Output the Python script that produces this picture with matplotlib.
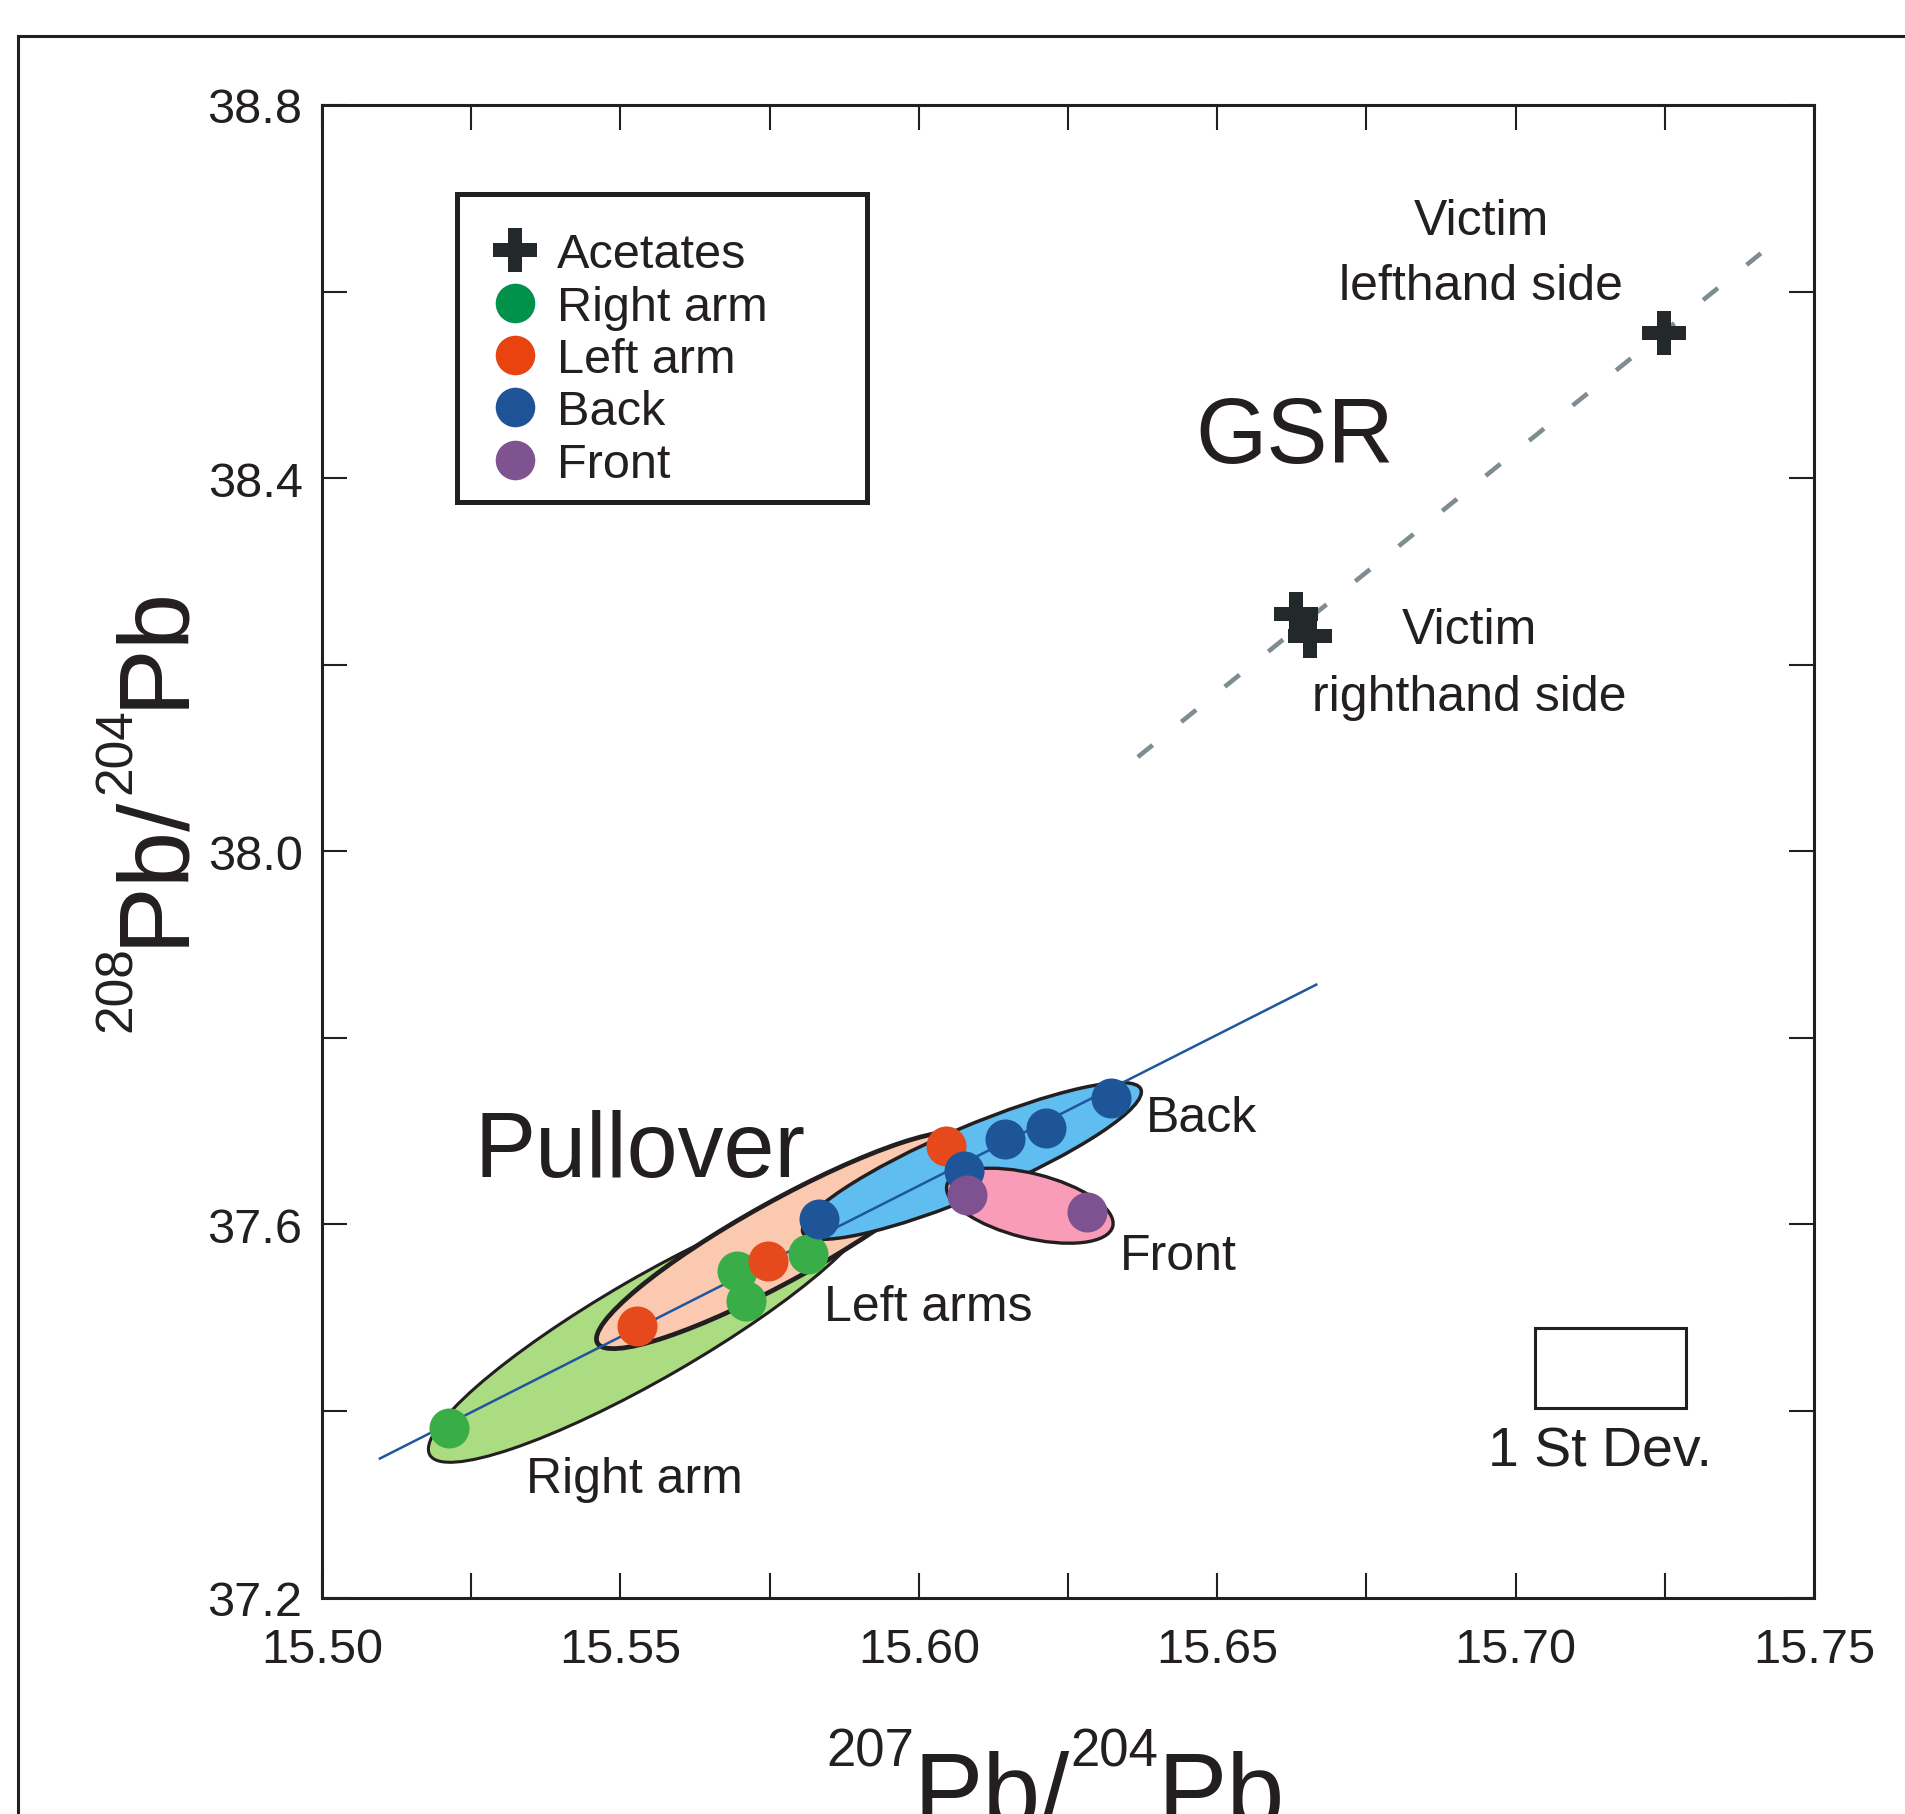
import matplotlib
matplotlib.use('Agg')
import matplotlib.pyplot as plt
from matplotlib.patches import Ellipse, Rectangle
from matplotlib.lines import Line2D
from matplotlib.ticker import MultipleLocator, FuncFormatter

plt.rcParams['font.family'] = ['Liberation Sans', 'DejaVu Sans']

# ---- data ----
acet_x = [15.7248, 15.6632, 15.6655]
acet_y = [38.556, 38.254, 38.231]

right_x = [15.5213, 15.5696, 15.5711, 15.5815]
right_y = [37.382, 37.550, 37.518, 37.568]

left_x = [15.5527, 15.5747, 15.6046]
left_y = [37.491, 37.561, 37.684]

back_x = [15.5833, 15.6076, 15.6144, 15.6213, 15.6322]
back_y = [37.606, 37.657, 37.692, 37.703, 37.736]

front_x = [15.6080, 15.6281]
front_y = [37.632, 37.613]

reg_x = [15.5097, 15.6666]
reg_y = [37.349, 37.857]

gsr_x = [15.6367, 15.7411]
gsr_y = [38.101, 38.641]

# ellipses: centre (data), width/height in axes fraction, angle (deg)
ell_right = (15.5552, 37.490, 0.343, 0.068, 30)
ell_left = (15.5772, 37.583, 0.284, 0.053, 29)
ell_back = (15.6089, 37.668, 0.246, 0.046, 23)
ell_front = (15.6186, 37.620, 0.1146, 0.0432, -14)

sd_x, sd_y, sd_w, sd_h = 15.7033, 37.4028, 0.0253, 0.0858

xmin, xmax = 15.50, 15.75
ymin, ymax = 37.2, 38.8

ink = '#231f20'
W, H = 1906, 1815
fig = plt.figure(figsize=(W / 100, H / 100), dpi=100)
ax = fig.add_axes([322 / W, 1 - 1598.5 / H, 1492 / W, 1492.5 / H])
ax.set_xlim(xmin, xmax)
ax.set_ylim(ymin, ymax)


def add_ell(e, face, lw, z):
    cx, cy, w, h, ang = e
    fx = (cx - xmin) / (xmax - xmin)
    fy = (cy - ymin) / (ymax - ymin)
    ax.add_patch(Ellipse((fx, fy), w, h, angle=ang, transform=ax.transAxes,
                         facecolor=face, edgecolor=ink, lw=lw, zorder=z))


add_ell(ell_right, '#acdc82', 2.2, 1)
add_ell(ell_left, '#fbc8b0', 3.4, 2)
add_ell(ell_back, '#5fbdf0', 2.5, 3)
add_ell(ell_front, '#f99cb8', 2.4, 4)

ax.plot(reg_x, reg_y, color='#1f56a0', lw=1.8, zorder=5)
ax.plot(gsr_x, gsr_y, color='#7f8c91', lw=3.3, linestyle=(0, (4.15, 8.05)), zorder=5)

ms = 830
ax.scatter(right_x, right_y, s=ms, color='#39ad48', lw=0, zorder=6)
ax.scatter(left_x, left_y, s=ms, color='#e5491c', lw=0, zorder=7)
ax.scatter(back_x, back_y, s=ms, color='#1e5598', lw=0, zorder=8)
ax.scatter(front_x, front_y, s=ms, color='#7e5290', lw=0, zorder=9)
ax.plot(acet_x, acet_y, 'P', color='#23282b', markersize=31, mew=0, ls='none', zorder=9)

ax.add_patch(Rectangle((sd_x, sd_y), sd_w, sd_h, facecolor='none', edgecolor=ink, lw=2.2, zorder=5))

# annotations
fs = 36
ax.text(15.6942, 38.662, 'Victim', fontsize=fs, color=ink, ha='center', va='baseline')
ax.text(15.6942, 38.592, 'lefthand side', fontsize=fs, color=ink, ha='center', va='baseline')
ax.text(15.6922, 38.223, 'Victim', fontsize=fs, color=ink, ha='center', va='baseline')
ax.text(15.6922, 38.151, 'righthand side', fontsize=fs, color=ink, ha='center', va='baseline')
ax.text(15.6463, 38.417, 'GSR', fontsize=66, color=ink, ha='left', va='baseline')
ax.text(15.5255, 37.652, 'Pullover', fontsize=66, color=ink, ha='left', va='baseline')
ax.text(15.6381, 37.700, 'Back', fontsize=fs, color=ink, ha='left', va='baseline')
ax.text(15.6337, 37.552, 'Front', fontsize=fs, color=ink, ha='left', va='baseline')
ax.text(15.5841, 37.4975, 'Left arms', fontsize=fs, color=ink, ha='left', va='baseline')
ax.text(15.5342, 37.313, 'Right arm', fontsize=fs, color=ink, ha='left', va='baseline')
ax.text(15.6954, 37.341, '1 St Dev.', fontsize=40, color=ink, ha='left', va='baseline')

# legend (frame drawn separately so the box can be larger than its content)
ax.add_patch(Rectangle((0.0908, 0.7343), 0.2748, 0.2064, transform=ax.transAxes,
                       facecolor='white', edgecolor=ink, lw=3.6, zorder=10))
handles = [
    Line2D([], [], marker='P', color='#23282b', ls='none', markersize=31, mew=0),
    Line2D([], [], marker='o', color='#00924a', ls='none', markersize=28.5, mew=0),
    Line2D([], [], marker='o', color='#e9430f', ls='none', markersize=28.5, mew=0),
    Line2D([], [], marker='o', color='#1e5497', ls='none', markersize=28.5, mew=0),
    Line2D([], [], marker='o', color='#7f5290', ls='none', markersize=28.5, mew=0),
]
labels = ['Acetates', 'Right arm', 'Left arm', 'Back', 'Front']
leg = ax.legend(handles, labels, loc='upper left', bbox_to_anchor=(0.1133, 0.9147),
                borderaxespad=0, borderpad=0, fontsize=35, frameon=False,
                handlelength=1.0, handletextpad=0.35, labelspacing=0.151)
leg.set_zorder(11)
for t in leg.get_texts():
    t.set_color(ink)

# ticks
ax.xaxis.set_major_locator(MultipleLocator(0.025))
ax.yaxis.set_major_locator(MultipleLocator(0.2))
ax.xaxis.set_major_formatter(FuncFormatter(
    lambda v, p: '%.2f' % v if abs(round(v / 0.05) * 0.05 - v) < 1e-6 else ''))
ax.yaxis.set_major_formatter(FuncFormatter(
    lambda v, p: '%.1f' % v if abs(round(v / 0.4) * 0.4 - v) < 1e-6 else ''))
ax.tick_params(direction='in', length=18, width=1.5, top=True, right=True,
               labelsize=35, colors=ink)
ax.tick_params(axis='x', pad=21)
ax.tick_params(axis='y', pad=14)
for s in ax.spines.values():
    s.set_linewidth(2.2)
    s.set_color(ink)

# outer frame of the original page
fig.add_artist(Line2D([18 / W, 18 / W], [0, 1 - 37 / H], color=ink, lw=2.2))
fig.add_artist(Line2D([18 / W, 1], [1 - 37 / H, 1 - 37 / H], color=ink, lw=2.2))

# axis titles built from pieces (small raised mass numbers)
renderer = fig.canvas.get_renderer()


def pieces(parts, x0, y0, rot):
    pos = x0 if rot == 0 else y0
    for txt, size, rise in parts:
        if rot == 0:
            t = fig.text(pos / W, (y0 + rise) / H, txt, fontsize=size, color=ink,
                         ha='left', va='baseline')
            pos += t.get_window_extent(renderer).width
        else:
            t = fig.text((x0 - rise) / W, pos / H, txt, fontsize=size, color=ink,
                         rotation=90, rotation_mode='anchor', ha='left', va='baseline')
            pos += t.get_window_extent(renderer).height


pieces([('207', 38, 58), ('Pb/', 75, 0), ('204', 38, 58), ('Pb', 75, 0)], 826, -10, 0)
pieces([('208', 37, 50), ('Pb/', 73, 0), ('204', 37, 50), ('Pb', 73, 0)], 181, 783, 90)

fig.savefig('out.png', dpi=100)
